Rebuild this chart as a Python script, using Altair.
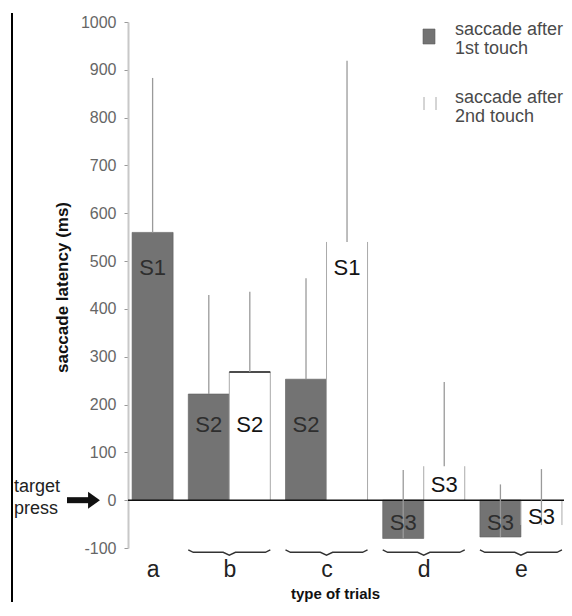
import altair as alt
import pandas as pd

# ---------------- data ----------------
trials = ["a", "b", "c", "d", "e"]
first_mean = [560, 222, 253, -80, -77]
first_err_top = [883, 429, 464, 63, 33]
first_label = ["S1", "S2", "S2", "S3", "S3"]
first_label_at = [485, 157, 157, -48, -48]
second_mean = [None, 268, 540, 71, -52]
second_err_top = [None, 436, 919, 247, 65]
second_label = [None, "S2", "S1", "S3", "S3"]
second_label_at = [None, 157, 485, 31, -35]
y_ticks = list(range(-100, 1001, 100))
legend_entries = [["saccade after", "1st touch"], ["saccade after", "2nd touch"]]
y_title = "saccade latency (ms)"
x_title = "type of trials"
target_text = ["target", "press"]

# ---------------- layout constants ----------------
W, H = 436, 526
GAP = 0.37
FONT = "Liberation Sans"
GRAY = "#737373"

rows = []
slot = 0
series = [
    (1, first_mean, first_err_top, first_label, first_label_at),
    (2, second_mean, second_err_top, second_label, second_label_at),
]
for g, t in enumerate(trials):
    for touch, means, errs, labs, lat in series:
        if means[g] is None:
            continue
        x0 = slot + g * GAP
        rows.append(dict(trial=t, touch=touch, mean=means[g], err=errs[g],
                         label=labs[g], label_at=lat[g],
                         x0=x0, x1=x0 + 1, xc=x0 + 0.5))
        slot += 1
df = pd.DataFrame(rows)

centers = []
brace_rows = []
for t in trials:
    grp = df[df.trial == t]
    L, R = grp.x0.min(), grp.x1.max()
    C = (L + R) / 2
    centers.append(C)
    if len(grp) > 1:
        pts = [(L, -104), (L + 0.12, -109), (C - 0.15, -109), (C, -115),
               (C + 0.15, -109), (R - 0.12, -109), (R, -104)]
        for i, (bx, by) in enumerate(pts):
            brace_rows.append(dict(trial=t, order=i, bx=bx, by=by))
braces = pd.DataFrame(brace_rows)

label_expr = ""
for c, t in zip(centers[:-1], trials[:-1]):
    label_expr += f"datum.value < {c + 0.3} ? '{t}' : "
label_expr += f"'{trials[-1]}'"

x_scale = alt.Scale(domain=[-0.1, 10.53], nice=False, zero=False)
y_scale = alt.Scale(domain=[-100, 1000], nice=False, zero=False)

x_axis = alt.Axis(values=centers, labelExpr=label_expr, domain=False, ticks=False,
                  tickSize=0, grid=False, labelFontSize=23, labelColor="#222",
                  labelPadding=28, labelBaseline="alphabetic", labelFlush=False,
                  title=x_title, titleFontSize=15, titleFontWeight="bold",
                  titleColor="#111", titleX=207, titleY=50, titleAlign="center",
                  titleBaseline="alphabetic")
y_axis = alt.Axis(values=y_ticks, labelExpr="'' + datum.value", grid=False,
                  labelFontSize=16, labelColor="#666", labelPadding=8, tickSize=4,
                  tickColor="#999", domainColor="#c8c8c8", domainWidth=2, title=y_title,
                  titleFontSize=17, titleFontWeight="bold", titleColor="#111",
                  titleX=-66, titleY=265, titleAngle=270, titleAlign="center",
                  titleBaseline="middle")

base = alt.Chart(df)

gray_bars = base.transform_filter(alt.datum.touch == 1).mark_rect(
    fill=GRAY, stroke="#5e5e5e", strokeWidth=0.6).encode(
    x=alt.X("x0:Q", scale=x_scale, axis=x_axis), x2="x1:Q",
    y=alt.Y("mean:Q", scale=y_scale, axis=y_axis), y2=alt.datum(0))

white_bars = base.transform_filter(alt.datum.touch == 2).mark_rect(fill="white").encode(
    x=alt.X("x0:Q", scale=x_scale, axis=x_axis), x2="x1:Q",
    y=alt.Y("mean:Q", scale=y_scale, axis=y_axis), y2=alt.datum(0))

side_l = base.transform_filter(alt.datum.touch == 2).mark_rule(
    color="#aaaaaa", strokeWidth=1).encode(
    x=alt.X("x0:Q", scale=x_scale, axis=x_axis),
    y=alt.Y("mean:Q", scale=y_scale, axis=y_axis), y2=alt.datum(0))
side_r = base.transform_filter(alt.datum.touch == 2).mark_rule(
    color="#aaaaaa", strokeWidth=1).encode(
    x=alt.X("x1:Q", scale=x_scale, axis=x_axis),
    y=alt.Y("mean:Q", scale=y_scale, axis=y_axis), y2=alt.datum(0))

top_b = base.transform_filter((alt.datum.touch == 2) & (alt.datum.trial == "b")).mark_rule(
    color="#111", strokeWidth=1.5).encode(
    x=alt.X("x0:Q", scale=x_scale, axis=x_axis), x2="x1:Q",
    y=alt.Y("mean:Q", scale=y_scale, axis=y_axis))

zero_line = alt.Chart(pd.DataFrame({"z": [0]})).mark_rule(
    color="#111", strokeWidth=1.5).encode(
    y=alt.Y("z:Q", scale=y_scale, axis=y_axis), x=alt.value(0), x2=alt.value(W))

err = base.mark_rule(color="#9a9a9a", strokeWidth=1.3).encode(
    x=alt.X("xc:Q", scale=x_scale, axis=x_axis),
    y=alt.Y("mean:Q", scale=y_scale, axis=y_axis), y2="err:Q")

labels = base.mark_text(fontSize=22, font=FONT, baseline="middle", align="center").encode(
    x=alt.X("xc:Q", scale=x_scale, axis=x_axis),
    y=alt.Y("label_at:Q", scale=y_scale, axis=y_axis),
    text="label:N",
    color=alt.condition(alt.datum.touch == 1, alt.value("#2e2e2e"), alt.value("#141414")))

brace = alt.Chart(braces).mark_line(color="#333", strokeWidth=1.4).encode(
    x=alt.X("bx:Q", scale=x_scale, axis=x_axis),
    y=alt.Y("by:Q", scale=y_scale, axis=y_axis),
    detail="trial:N", order="order:Q")

one = pd.DataFrame({"k": [0]})
annot = []
# left frame line
annot.append(alt.Chart(one).mark_rule(color="#000", strokeWidth=2).encode(
    x=alt.value(-116), y=alt.value(-9), y2=alt.value(580)))
# "target press" text with arrow
for i, t in enumerate(target_text):
    annot.append(alt.Chart(one).mark_text(text=t, fontSize=18, font=FONT, align="left",
                                          baseline="middle", color="#222").encode(
        x=alt.value(-114), y=alt.value(465 + 22 * i)))
annot.append(alt.Chart(one).mark_rule(color="#111", strokeWidth=6).encode(
    x=alt.value(-61), x2=alt.value(-38), y=alt.datum(0)))
annot.append(alt.Chart(one).mark_point(
    shape="M-0.7,-1L0.7,0L-0.7,1Z", filled=True, color="#111", opacity=1, size=289).encode(
    x=alt.value(-34), y=alt.datum(0)))
# legend
annot.append(alt.Chart(one).mark_rect(fill=GRAY, stroke="#5e5e5e", strokeWidth=0.6).encode(
    x=alt.value(295), x2=alt.value(307), y=alt.value(7), y2=alt.value(22)))
for xs in (296, 308):
    annot.append(alt.Chart(one).mark_rule(color="#aaaaaa", strokeWidth=1).encode(
        x=alt.value(xs), y=alt.value(75), y2=alt.value(88)))
for j, entry in enumerate(legend_entries):
    for i, line in enumerate(entry):
        annot.append(alt.Chart(one).mark_text(text=line, fontSize=18, font=FONT, align="left",
                                              baseline="middle", color="#4a4a4a").encode(
            x=alt.value(327), y=alt.value(8 + 68 * j + 19 * i)))

chart = alt.layer(gray_bars, white_bars, side_l, side_r, top_b, zero_line, err, labels,
                  brace, *annot).properties(
    width=W, height=H,
    autosize=alt.AutoSizeParams(type="none"),
    padding={"left": 120, "top": 14, "right": 0, "bottom": 54},
).configure(font=FONT).configure_view(stroke=None)

chart.save("out.html", embed_options={"renderer": "svg", "actions": False})
